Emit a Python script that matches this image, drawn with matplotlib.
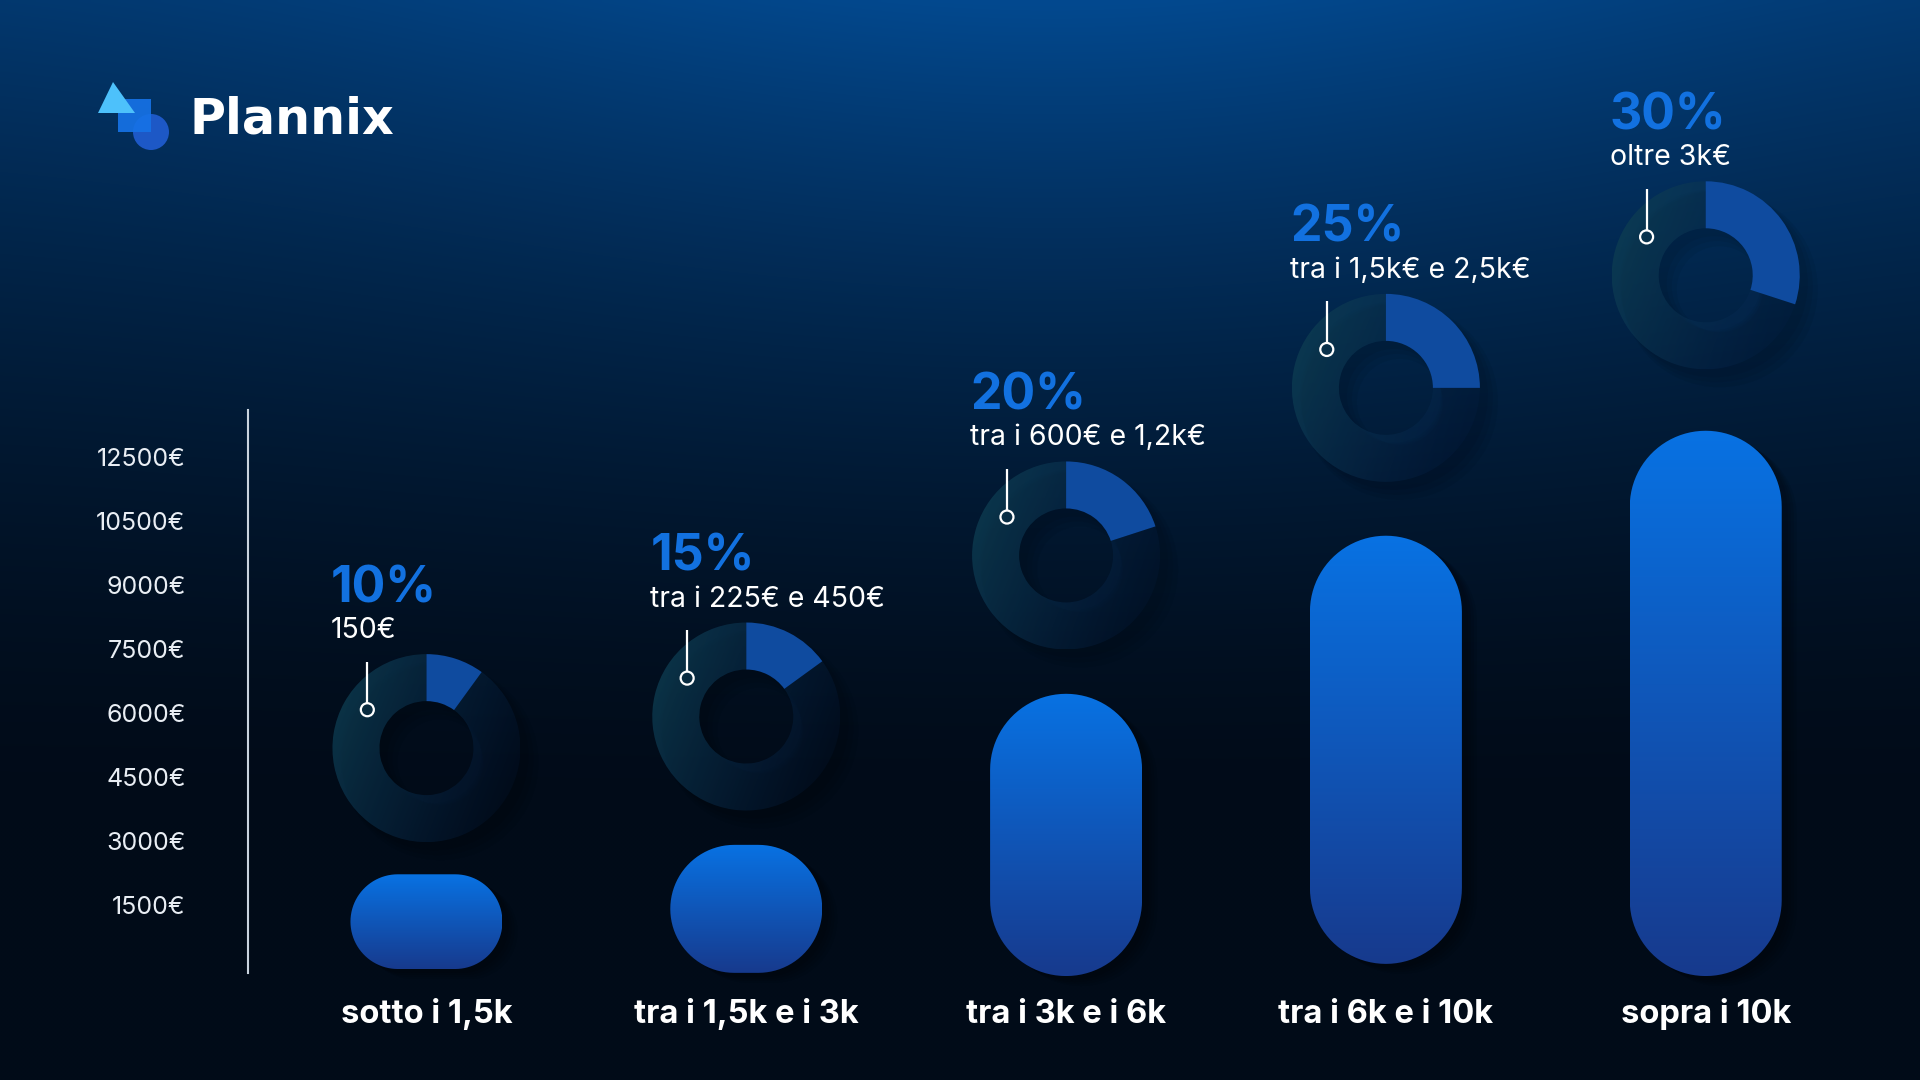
import numpy as np
import matplotlib
matplotlib.use("Agg")
import matplotlib.pyplot as plt
import matplotlib.transforms as mtransforms
from matplotlib.patches import FancyBboxPatch, Wedge, Circle, Polygon, Rectangle
from matplotlib.path import Path
from matplotlib.colors import to_rgb

plt.rcParams['font.family'] = ['Inter', 'DejaVu Sans']

# --- data ---------------------------------------------------------------
categories = ["sotto i 1,5k", "tra i 1,5k e i 3k", "tra i 3k e i 6k",
              "tra i 6k e i 10k", "sopra i 10k"]
# bar extent in y-tick units (1 unit = one tick step on the axis)
bar_top = [1.48, 1.94, 4.30, 6.77, 8.41]
bar_bottom = [0.0, -0.06, -0.11, 0.08, -0.11]
shares = [10, 15, 20, 25, 30]
share_labels = ["150€", "tra i 225€ e 450€", "tra i 600€ e 1,2k€",
                "tra i 1,5k€ e 2,5k€", "oltre 3k€"]
ytick_labels = ["1500€", "3000€", "4500€", "6000€", "7500€", "9000€",
                "10500€", "12500€"]

W, H, DPI = 1920, 1080, 100
fig = plt.figure(figsize=(W / DPI, H / DPI), dpi=DPI)

# background gradient
bg = fig.add_axes([0, 0, 1, 1])
yy, xx = np.mgrid[0:H:4, 0:W:4]
v = np.clip(1 - yy / 820, 0, 1) ** 1.6
h = 0.68 + 0.32 * np.exp(-((xx - 1050) / 750) ** 2)
top = np.array(to_rgb('#03498f'))
bot = np.array(to_rgb('#010b18'))
img = bot + (top - bot) * (v * h)[..., None]
bg.imshow(img, extent=[0, 1, 0, 1], aspect='auto', interpolation='bilinear')
bg.axis('off')

# main chart axes
ax = fig.add_axes([248 / W, 0, 1 - 248 / W, 1])
ax.patch.set_alpha(0)
XLIM = (-0.558, 4.670)
YLIM = (-1.734, 15.14)
ax.set_xlim(*XLIM)
ax.set_ylim(*YLIM)
ax.set_autoscale_on(False)
fig.canvas.draw()
p0 = ax.transData.transform((0, 0))
p1 = ax.transData.transform((1, 1))
px_x, px_y = p1 - p0


def at(x, y):
    # local coordinates in output pixels, anchored at a data point
    return mtransforms.Affine2D() + mtransforms.ScaledTranslation(x, y, ax.transData)


def stadium(x0, y0, width, height, mutation_size):
    # rectangle with fully rounded (circular) ends
    r = min(width, height) / 2
    a = np.linspace(0, np.pi / 2, 24)
    corners = [(x0 + width - r, y0 + height - r, a),
               (x0 + r, y0 + height - r, a + np.pi / 2),
               (x0 + r, y0 + r, a + np.pi),
               (x0 + width - r, y0 + r, a + 1.5 * np.pi)]
    pts = np.vstack([np.column_stack([cx + r * np.cos(t), cy + r * np.sin(t)])
                     for cx, cy, t in corners])
    pts = np.vstack([pts, pts[:1]])
    return Path(pts, closed=True)


bar_w = 152 / px_x
c_top = np.array(to_rgb('#0872e3'))
c_bot = np.array(to_rgb('#173a8d'))
grad = np.linspace(0, 1, 256)[:, None]
bar_img = (c_top + (c_bot - c_top) * grad[..., None]) * np.ones((1, 2, 1))

R_OUT, R_IN = 94, 47
ring_c0 = np.array([14, 62, 82, 0.78 * 255]) / 255
ring_c1 = np.array([8, 40, 88, 0.12 * 255]) / 255
N = 200
u = np.linspace(-1, 1, N)[None, :]
vv = np.linspace(1, -1, N)[:, None]
t = np.clip((0.9 * u - 0.35 * vv + 1) / 2, 0, 1)
ring_img = ring_c0 + (ring_c1 - ring_c0) * t[..., None]

for i, (b0, b1) in enumerate(zip(bar_bottom, bar_top)):
    hh = b1 - b0
    # soft shadow
    for k in range(4):
        sh = FancyBboxPatch((i - bar_w / 2 + (6 + 3 * k) / px_x, b0 - (4 + 2 * k) / px_y),
                            bar_w, hh, boxstyle=stadium, mutation_aspect=px_x / px_y,
                            fc='black', ec='none', alpha=0.08, zorder=2)
        ax.add_patch(sh)
    patch = FancyBboxPatch((i - bar_w / 2, b0), bar_w, hh, boxstyle=stadium,
                           mutation_aspect=px_x / px_y, fc='none', ec='none', zorder=3)
    ax.add_patch(patch)
    im = ax.imshow(bar_img, extent=[i - bar_w / 2, i + bar_w / 2, b0, b1],
                   aspect='auto', interpolation='bilinear', zorder=3)
    im.set_clip_path(patch)

    # donut above the bar
    cx = i
    cy = b1 + 1.875 + 0.065 * hh
    tr = at(cx, cy)
    for k in range(3):
        ax.add_patch(Wedge((8 + 3 * k, -8 - 3 * k), R_OUT + 2 * k, 0, 360,
                           width=R_OUT - R_IN + 4 * k, transform=tr,
                           fc='black', ec='none', alpha=0.05, zorder=2))
    p = shares[i] / 100
    rest = Wedge((0, 0), R_OUT, 90, 450 - 360 * p, width=R_OUT - R_IN,
                 transform=tr, fc='none', ec='none')
    ax.add_patch(rest)
    rim = ax.imshow(ring_img, extent=[cx - R_OUT / px_x, cx + R_OUT / px_x,
                                      cy - R_OUT / px_y, cy + R_OUT / px_y],
                    aspect='auto', interpolation='bilinear', zorder=3)
    rim.set_clip_path(rest)
    ax.add_patch(Wedge((0, 0), R_OUT, 90 - 360 * p, 90, width=R_OUT - R_IN,
                       transform=tr, fc='#0f4b9f', ec='none', zorder=4))

    # leader line with hollow marker
    ang = np.deg2rad(147)
    mx, my = 70.5 * np.cos(ang), 70.5 * np.sin(ang)
    ax.plot([mx, mx], [my + 6.5, my + 48], transform=tr, color='white', lw=1.6,
            solid_capstyle='butt', zorder=5)
    ax.add_patch(Circle((mx, my), 6.5, transform=tr, fc='none', ec='white',
                        lw=1.6, zorder=5))

    ax.text(-96, 146, f"{shares[i]}%", transform=tr, fontsize=36, fontweight='bold',
            color='#1271e0', ha='left', va='baseline', zorder=6)
    ax.text(-96, 110, share_labels[i], transform=tr, fontsize=20.5,
            color='white', ha='left', va='baseline', zorder=6)

    ax.text(0, -45, categories[i], transform=at(i, 0), fontsize=23.5,
            fontweight='bold', color='white', ha='center', va='center', zorder=6)

# y axis
ax.set_yticks(range(1, len(ytick_labels) + 1))
ax.set_yticklabels(ytick_labels)
ax.tick_params(axis='y', length=0, pad=45, labelsize=18, labelcolor='#e9eef4')
ax.set_xticks([])
for s in ['top', 'right', 'bottom']:
    ax.spines[s].set_visible(False)
ax.spines['left'].set_color('#c9d3de')
ax.spines['left'].set_linewidth(1.5)
ax.spines['left'].set_bounds(-0.06, 8.73)
ax.set_xlim(*XLIM)
ax.set_ylim(*YLIM)

# logo
lg = fig.add_axes([0, 0, 1, 1])
lg.set_xlim(0, W)
lg.set_ylim(H, 0)
lg.axis('off')
lg.add_patch(Circle((151, 132), 18, fc='#1d58c6', ec='none'))
lg.add_patch(Rectangle((118, 99), 33, 33, fc='#1672e6', ec='none', alpha=0.92))
lg.add_patch(Polygon([(113, 82), (98, 113), (135, 113)], closed=True,
                     fc='#4dc1fb', ec='none'))
lg.text(190, 134, "Plannix", fontsize=35.5, fontweight='bold', color='white',
        family='DejaVu Sans', ha='left', va='baseline')

fig.savefig("out.png", dpi=DPI)
